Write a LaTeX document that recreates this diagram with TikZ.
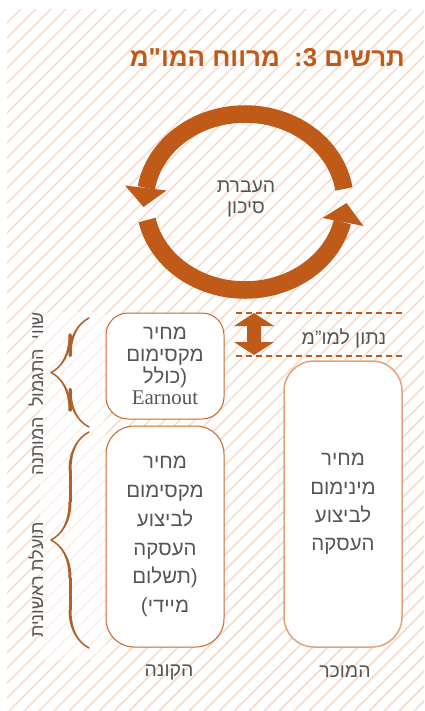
\documentclass[tikz,border=0pt]{standalone}
\usepackage{fontspec}
\setmainfont{Liberation Serif}
\newfontfamily\heb[Script=Hebrew]{Liberation Sans}
\newfontfamily\lat{Liberation Serif}
\TeXXeTstate=1
\usetikzlibrary{calc,decorations.pathreplacing,calligraphy}
\newcommand\hebl[1]{\beginR#1\endR}
\definecolor{orng}{HTML}{BF5A18}
\definecolor{hatchc}{HTML}{F6D6C2}
\definecolor{txt}{HTML}{555555}
\definecolor{boxb}{HTML}{C8672B}
\definecolor{boxr}{HTML}{E2A27A}
\definecolor{brc}{HTML}{B0602A}
\begin{document}
\begin{tikzpicture}[x=1bp,y=-1bp,
  lbl/.style={text=txt, align=center, inner sep=0pt},
  boxl/.style={draw=boxb, fill=white, line width=1bp, minimum width=118bp, text=txt, align=center},
  boxrt/.style={draw=boxr, fill=white, line width=1.5bp, minimum width=118bp, text=txt, align=center},
  ring/.style={orng, line width=17.5bp},
  dash line/.style={orng, line width=1.2bp, dash pattern=on 6bp off 4bp},
  bracec/.style={decorate, decoration={calligraphic brace, amplitude=38bp}, line width=3bp, pen colour={brc}, draw=brc}]
\useasboundingbox (0,0) rectangle (424,711);
\fill[white] (0,0) rectangle (424,711);
\begin{scope}
  \clip (7,10) rectangle (424,711);
  \foreach \c in {0,15,...,1150} \draw[hatchc, line width=1.4bp] (\c,0) -- (\c-720,720);
\end{scope}
\fill[white, opacity=0.55] (40,312) rectangle (106,660);

% title
\node[anchor=east, inner sep=0pt, font=\heb\bfseries\fontsize{26}{30}\selectfont, text=orng] (title) at (405,58)
  {\hebl{תרשים 3\kern0pt:\ \ מרווח המו"מ}};

% circular arrows
\coordinate (cc) at (245,202);
\draw[ring] ($(cc)+(-8.5:100 and 88)$) arc[start angle=-8.5, end angle=-170.8, x radius=100, y radius=88];
\draw[ring] ($(cc)+(168.2:100 and 88)$) arc[start angle=168.2, end angle=13.1, x radius=100, y radius=88];
\fill[orng] (125,185.5) -- (166.5,190.5) -- (143.5,207) -- cycle;
\fill[orng] (322.5,218) -- (363.5,226) -- (346.5,203) -- cycle;
\node[lbl, font=\heb\fontsize{19.5}{22}\selectfont] (risk) at (246,199) {\hebl{העברת}\\\hebl{סיכון}};

% dashed lines and double arrow
\coordinate (d1a) at (236,313); \coordinate (d1b) at (403,313);
\coordinate (d2a) at (236,356); \coordinate (d2b) at (403,356);
\draw[dash line] (d1a) -- (d1b);
\draw[dash line] (d2a) -- (d2b);
\fill[orng] (254,313) -- (274,326) -- (261,326) -- (261,342) -- (274,342) -- (254,355)
  -- (234,342) -- (247,342) -- (247,326) -- (234,326) -- cycle;
\node[lbl, font=\heb\fontsize{19.5}{22}\selectfont] (gap) at (344,338) {\hebl{נתון למו”מ}};

% boxes
\node[boxl, rounded corners=22bp, minimum height=106bp, font=\heb\fontsize{20.5}{22}\selectfont] (bmax) at (165,366)
  {\hebl{מחיר}\\\hebl{מקסימום}\\\hebl{(כולל}\\{\lat\fontsize{21}{22}\selectfont Earnout}};
\node[boxl, rounded corners=28bp, minimum height=221bp, font=\heb\fontsize{20.5}{29}\selectfont] (bnow) at (165,536.5)
  {\hebl{מחיר}\\\hebl{מקסימום}\\\hebl{לביצוע}\\\hebl{העסקה}\\\hebl{(תשלום}\\\hebl{מיידי)}};
\node[boxrt, rounded corners=30bp, minimum height=286bp, font=\heb\fontsize{20.5}{28.5}\selectfont] (smin) at (343,504)
  {\hebl{מחיר}\\\hebl{מינימום}\\\hebl{לביצוע}\\\hebl{העסקה}};

% bottom labels
\node[lbl, font=\heb\fontsize{19.5}{22}\selectfont] (buyer) at (169,672) {\hebl{הקונה}};
\node[lbl, font=\heb\fontsize{19.5}{22}\selectfont] (seller) at (345,672) {\hebl{המוכר}};

% braces
\coordinate (b1a) at (89,427); \coordinate (b1b) at (89,318);
\coordinate (b2a) at (89,648); \coordinate (b2b) at (89,432);
\draw[bracec] (b1a) -- (b1b);
\draw[bracec] (b2a) -- (b2b);

% vertical labels
\node[lbl, rotate=90, font=\heb\fontsize{18}{22}\selectfont] (cond) at (36,394) {\hebl{שווי\ \ התגמול\ \ המותנה}};
\node[lbl, rotate=90, font=\heb\fontsize{18}{22}\selectfont] (init) at (36,580) {\hebl{תועלת ראשונית}};
\end{tikzpicture}
\end{document}
